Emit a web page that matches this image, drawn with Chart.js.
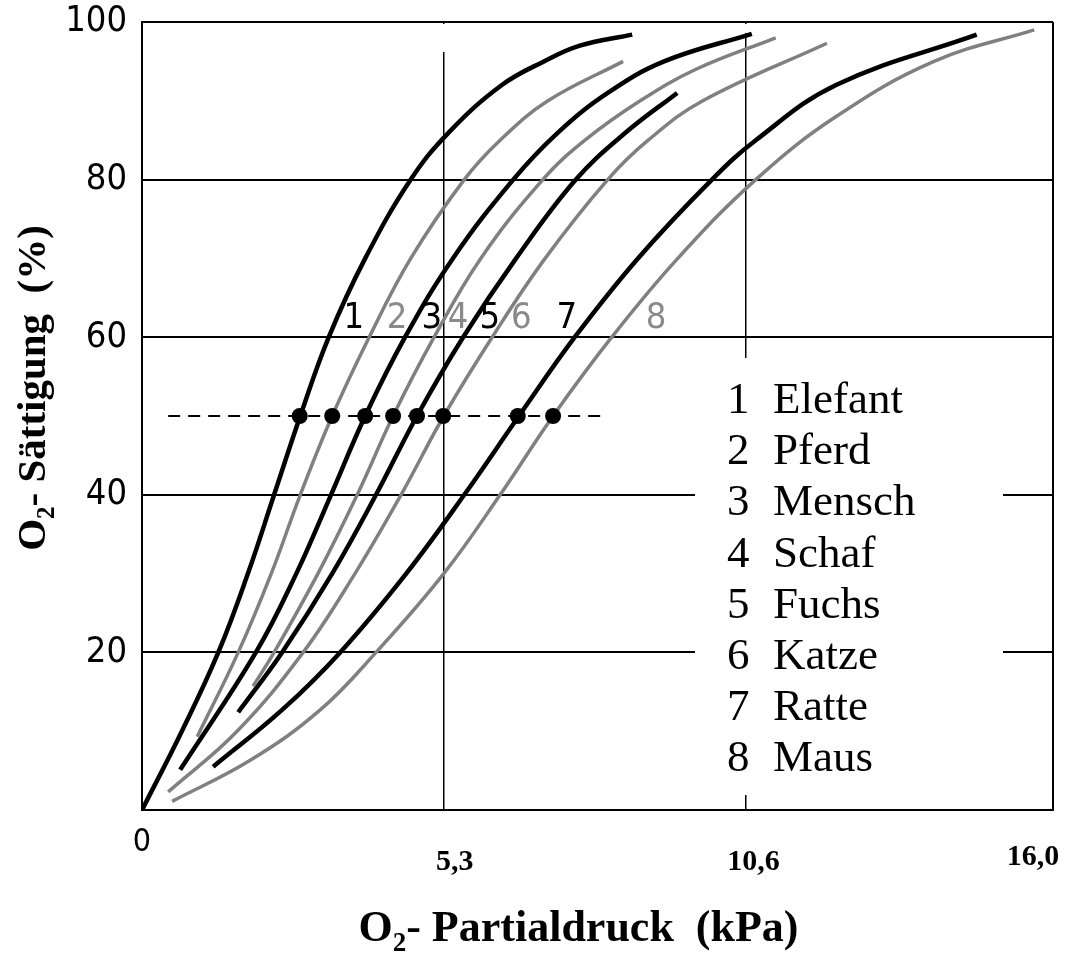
<!DOCTYPE html>
<html lang="de">
<head>
<meta charset="UTF-8" />
<title>O2-Bindungskurven</title>
<script src="https://cdn.jsdelivr.net/npm/chart.js"></script>
<style>
  html, body { margin: 0; padding: 0; background: #fff; }
  #chart { display: block; }
</style>
</head>
<body>
<canvas id="chart" width="1067" height="954"></canvas>
<script>
// [kPa, Sättigung %]
const elefant = [[0, 0], [0.70, 10], [1.34, 20], [1.86, 30], [2.32, 40], [2.78, 50], [3.28, 60], [3.92, 70], [4.72, 80], [5.39, 86], [6.32, 92], [7.06, 95], [7.69, 97], [8.61, 98.4]];
const pferd = [[0.97, 9.3], [1.69, 20], [2.27, 30], [2.78, 40], [3.34, 50], [3.99, 60], [4.72, 70], [5.66, 80], [6.29, 85], [7.13, 90], [8.45, 95]];
const mensch = [[0.67, 5.1], [2.00, 20], [2.71, 30], [3.32, 40], [3.92, 50], [4.62, 60], [5.46, 70], [6.52, 80], [7.31, 86], [8.18, 91], [9.17, 95], [10.71, 98.5]];
const schaf = [[1.95, 15.7], [2.32, 20], [3.09, 30], [3.78, 40], [4.41, 50], [5.13, 60], [5.95, 70], [7.04, 80], [7.78, 85], [8.75, 90], [9.73, 94], [11.13, 98]];
const fuchs = [[1.69, 12.4], [2.46, 20], [3.34, 30], [4.11, 40], [4.83, 50], [5.64, 60], [6.57, 70], [7.62, 80], [8.50, 86], [9.40, 91]];
const katze = [[0.46, 2.3], [1.67, 10], [2.83, 20], [3.74, 30], [4.55, 40], [5.30, 50], [6.15, 60], [7.08, 70], [8.18, 80], [8.89, 85], [9.85, 90], [12.03, 97.3]];
const ratte = [[1.25, 5.5], [2.46, 12.7], [3.48, 20], [4.64, 30], [5.66, 40], [6.62, 50], [7.60, 60], [8.71, 70], [10.01, 80], [10.78, 85], [12.19, 92], [14.66, 98.4]];
const maus = [[0.53, 1.1], [1.90, 6.3], [3.13, 12.7], [4.11, 20], [5.30, 30], [6.29, 40], [7.22, 50], [8.25, 60], [9.41, 70], [10.78, 80], [12.19, 88], [13.91, 95], [15.67, 99]];

const animals = ["Elefant", "Pferd", "Mensch", "Schaf", "Fuchs", "Katze", "Ratte", "Maus"];
const curves = [elefant, pferd, mensch, schaf, fuchs, katze, ratte, maus];

// P50 points on the dashed 50 % line
const p50 = [2.77, 3.34, 3.92, 4.41, 4.83, 5.29, 6.60, 7.22];
const halfLine = [0.46, 8.13];

// curve numbers written above the 60 % line
const numberX = [3.72, 4.48, 5.09, 5.55, 6.11, 6.66, 7.46, 9.03];
const numberY = 62.3;

const xTicks = [0, 5.3, 10.6, 16.0];
const xTickLabels = ["0", "5,3", "10,6", "16,0"];

const SANS = '"Liberation Sans Narrow", "DejaVu Sans Condensed", sans-serif';
const SERIF = '"Liberation Serif", "Times New Roman", serif';

function drawO2(ctx, rest, cx, baseline, size) {
    const big = `bold ${size}px ${SERIF}`;
    const small = `bold ${Math.round(size * 0.62)}px ${SERIF}`;
    ctx.font = big;
    const wO = ctx.measureText("O").width;
    const wRest = ctx.measureText(rest).width;
    ctx.font = small;
    const w2 = ctx.measureText("2").width;
    let x = cx - (wO + w2 + wRest) / 2;
    ctx.textAlign = "left";
    ctx.textBaseline = "alphabetic";
    ctx.fillStyle = "#000";
    ctx.font = big;
    ctx.fillText("O", x, baseline);
    x += wO;
    ctx.font = small;
    ctx.fillText("2", x, baseline + size * 0.22);
    x += w2;
    ctx.font = big;
    ctx.fillText(rest, x, baseline);
}

const decor = {
    id: "decor",
    beforeDatasetsDraw(chart) {
        const { ctx, chartArea: a, scales } = chart;
        ctx.save();
        ctx.fillStyle = "#fff";
        // gap in the grid behind the legend
        ctx.fillRect(a.left + 553, a.top + 336, 308, 437);
        // the inner vertical lines stop short of the top frame
        ctx.fillRect(scales.x.getPixelForValue(5.3) - 2, a.top + 2, 4, 28);
        ctx.fillRect(scales.x.getPixelForValue(10.6) - 2, a.top + 2, 4, 9);
        ctx.restore();
    },
    afterDraw(chart) {
        const { ctx, chartArea: a, scales } = chart;
        const xs = scales.x, ys = scales.y;
        ctx.save();

        // x tick labels (staggered like the original)
        const dx = [0, 11, 8, -20];
        const dy = [33, 52, 52, 47];
        ctx.textAlign = "center";
        ctx.textBaseline = "middle";
        ctx.fillStyle = "#000";
        xTicks.forEach((v, i) => {
            ctx.font = i === 0 ? `32px ${SANS}` : `bold 30px ${SERIF}`;
            ctx.fillText(xTickLabels[i], xs.getPixelForValue(v) + dx[i], a.bottom + dy[i]);
        });

        // curve numbers
        ctx.font = `36px ${SANS}`;
        numberX.forEach((v, i) => {
            ctx.fillStyle = i % 2 === 0 ? "#000" : "#8a8a8a";
            ctx.fillText(String(i + 1), xs.getPixelForValue(v), ys.getPixelForValue(numberY));
        });

        // legend
        ctx.fillStyle = "#000";
        ctx.textAlign = "left";
        ctx.textBaseline = "alphabetic";
        ctx.font = `45px ${SERIF}`;
        animals.forEach((name, i) => {
            const y = a.top + 391 + i * 51.2;
            ctx.fillText(String(i + 1), a.left + 585, y);
            ctx.fillText(name, a.left + 631, y);
        });

        // axis titles
        drawO2(ctx, "- Partialdruck  (kPa)", (a.left + a.right) / 2 - 19, 941, 44);
        ctx.translate(45, 388);
        ctx.rotate(-Math.PI / 2);
        drawO2(ctx, "- Sättigung  (%)", 0, 0, 41);
        ctx.restore();
    }
};

const curveSets = curves.map((pts, i) => ({
    label: animals[i],
    data: pts.map(([x, y]) => ({ x, y })),
    borderColor: i % 2 === 0 ? "#000" : "#808080",
    borderWidth: i % 2 === 0 ? 4.5 : 3.5,
    pointRadius: 0,
    tension: 0.4,
    fill: false,
    order: 2
}));

new Chart(document.getElementById("chart"), {
    type: "line",
    data: {
        datasets: [
            {
                label: "P50",
                data: p50.map((x) => ({ x, y: 50 })),
                showLine: false,
                pointRadius: 8,
                pointBackgroundColor: "#000",
                pointBorderWidth: 0,
                order: 0
            },
            {
                label: "50 %",
                data: halfLine.map((x) => ({ x, y: 50 })),
                borderColor: "#000",
                borderWidth: 2,
                borderDash: [12, 8],
                pointRadius: 0,
                order: 1
            },
            ...curveSets
        ]
    },
    options: {
        responsive: false,
        animation: false,
        layout: { padding: { left: 0, right: 14, top: 22, bottom: 0 } },
        plugins: { legend: { display: false }, tooltip: { enabled: false } },
        scales: {
            x: {
                type: "linear",
                min: 0,
                max: 16,
                afterBuildTicks(s) { s.ticks = xTicks.map((v) => ({ value: v })); },
                afterFit(s) { s.height = 144; s.paddingLeft = 0; s.paddingRight = 0; },
                ticks: { display: false },
                grid: {
                    color: "#000",
                    lineWidth: (c) => (c.tick && (c.tick.value === 5.3 || c.tick.value === 10.6) ? 1.5 : 2),
                    drawTicks: false
                },
                border: { display: true, color: "#000", width: 2 }
            },
            y: {
                min: 0,
                max: 100,
                afterFit(s) { s.width = 142; s.paddingTop = 0; s.paddingBottom = 0; },
                ticks: {
                    stepSize: 20,
                    callback: (v) => (v === 0 ? "" : v),
                    color: "#000",
                    padding: 15,
                    font: { family: SANS, size: 36, lineHeight: 1 }
                },
                grid: { color: "#000", lineWidth: 2, drawTicks: false },
                border: { display: true, color: "#000", width: 2 }
            }
        }
    },
    plugins: [decor]
});
</script>
</body>
</html>
